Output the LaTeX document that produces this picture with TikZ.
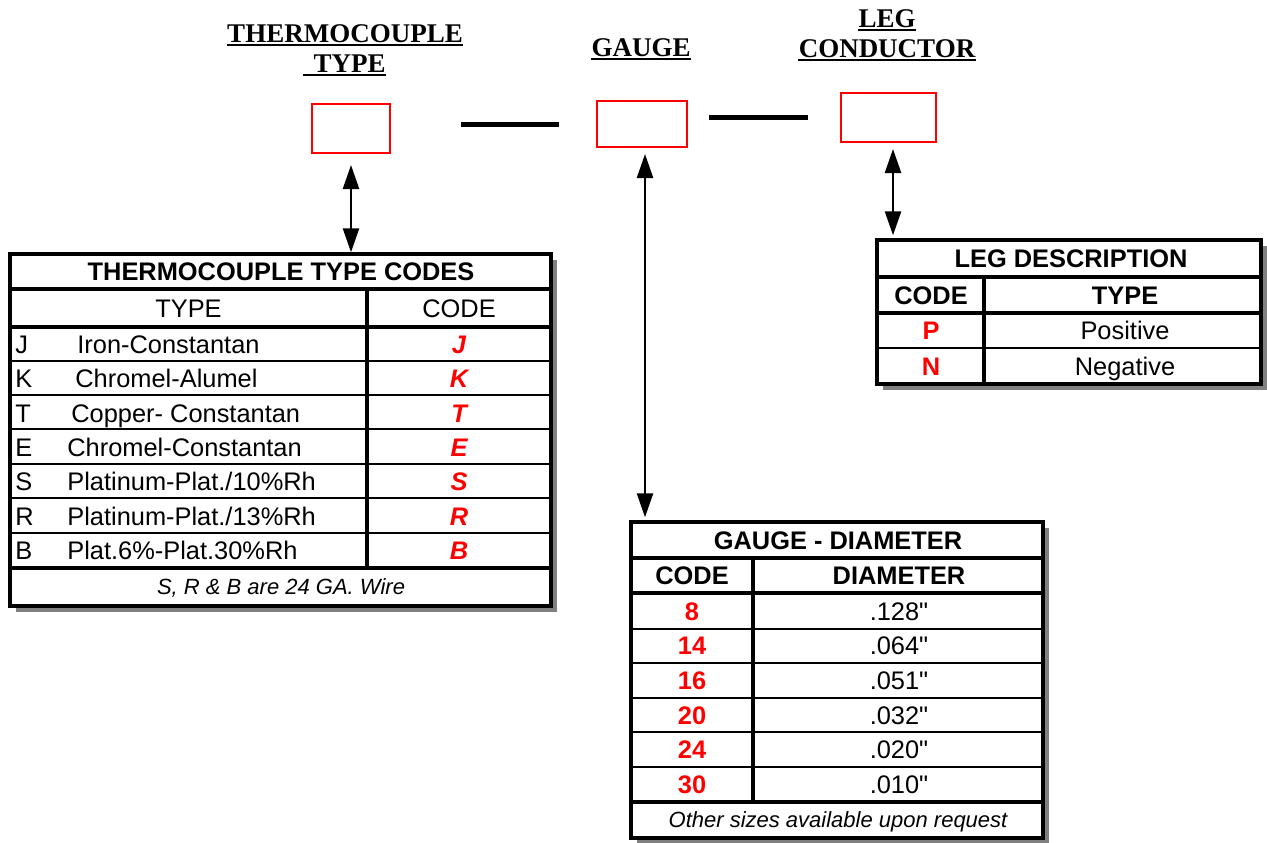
\documentclass[tikz,border=0pt]{standalone}
\usepackage{fontspec}
\setmainfont{Liberation Sans}[Ligatures=TeXOff]
\newfontfamily\titlefont{Liberation Serif}
\usetikzlibrary{arrows.meta,fit,shadows}
\tikzset{redbox/.style={draw=red,line width=1pt,inner sep=0pt}}
\tikzset{frame/.style={draw,fill=white,line width=1.7pt,inner sep=0pt,drop shadow={shadow xshift=3pt,shadow yshift=-3pt,fill=black!50,opacity=1}}}
\tikzset{dblarrow/.style={draw,{Triangle[length=12pt,width=8pt]}-{Triangle[length=12pt,width=8pt]},line width=1.2pt}}
\tikzset{bar/.style={draw,line width=2.5pt}}
\tikzset{uline/.style={draw,line width=1pt}}
\tikzset{sepline/.style={draw,line width=1.6pt}}
\tikzset{rowline/.style={draw,line width=1pt}}
\tikzset{heading/.style={inner sep=0pt,anchor=base,font={\titlefont\bfseries\fontsize{13.5pt}{15pt}\selectfont}}}
\tikzset{cell/.style={inner sep=0pt,text height=9pt,text depth=0pt,font={\fontsize{12.7pt}{15pt}\selectfont}}}
\tikzset{boldcell/.style={cell,font={\fontsize{12.7pt}{15pt}\selectfont\bfseries}}}
\tikzset{codecell/.style={cell,text=red,font={\fontsize{12.7pt}{15pt}\selectfont\bfseries\itshape}}}
\tikzset{numcell/.style={boldcell,text=red}}
\tikzset{note/.style={inner sep=0pt,text height=7.9pt,text depth=0pt,font={\fontsize{11pt}{13pt}\selectfont\itshape}}}

\begin{document}
\begin{tikzpicture}[x=0.5pt,y=-0.5pt]
        \useasboundingbox (0,0) rectangle (1267,842);
        \node[heading] (tctitle1) at (345,42) {THERMOCOUPLE};
        \node[heading] (tctitle2) at (349.5,72) {TYPE};
        \node[heading] (gtitle) at (641,56) {GAUGE};
        \node[heading] (ltitle1) at (887,27) {LEG};
        \node[heading] (ltitle2) at (887,57) {CONDUCTOR};
        \foreach \t in {tctitle1,gtitle,ltitle1,ltitle2}
            \path[uline] ([yshift=-1.6pt]\t.base west) -- ([yshift=-1.6pt]\t.base east);
        \path[uline] ([xshift=-5pt,yshift=-1.6pt]tctitle2.base west) -- ([yshift=-1.6pt]tctitle2.base east);

        \node[redbox,fit={(312,104)(390,153)}] (tcbox) {};
        \node[redbox,fit={(597,101)(687,147)}] (gbox) {};
        \node[redbox,fit={(841,93)(936,142)}] (lbox) {};
        \path[bar,shorten <=35pt,shorten >=18.5pt] (tcbox.east |- gbox.west) -- (gbox.west);
        \path[bar,shorten <=10.5pt,shorten >=16pt] (gbox.east |- lbox.west) -- (lbox.west);

        \node[frame,fit={(10,254)(551,606)}] (tctab) {};
        \node[frame,fit={(631,522)(1043,838)}] (gtab) {};
        \node[frame,fit={(877,240)(1261,384)}] (ltab) {};

        \path[dblarrow,shorten <=5.5pt] (tcbox.south) -- (tcbox.south |- tctab.north);
        \path[dblarrow,shorten <=3pt,shorten >=1.5pt] ([xshift=1.5pt]gbox.south) -- ([xshift=1.5pt]gbox.south |- gtab.north);
        \path[dblarrow,shorten <=3pt,shorten >=1.5pt] ([xshift=2.25pt]lbox.south) -- ([xshift=2.25pt]lbox.south |- ltab.north);

        \path[sepline] (10,289) -- (551,289) (10,327) -- (551,327) (10,568) -- (551,568) (367,289) -- (367,568);
        \foreach \y in {361,395,429,464,498,533}
            \path[rowline] (10,\y) -- (551,\y);
        \node[boldcell] (tchead) at (281,271.5) {THERMOCOUPLE TYPE CODES};
        \node[cell] (tctype) at (188.5,308) {TYPE};
        \node[cell] (tccode) at (459,308) {CODE};
        \foreach \i/\l/\n/\x in {0/J/Iron-Constantan/77, 1/K/Chromel-Alumel/75, 2/T/Copper- Constantan/71, 3/E/Chromel-Constantan/67, 4/S/{Platinum-Plat./10\%Rh}/67, 5/R/{Platinum-Plat./13\%Rh}/67, 6/B/{Plat.6\%-Plat.30\%Rh}/67}{
            \node[cell,anchor=west] (tcl\i) at (15,344.2+34.43*\i) {\l};
            \node[cell,anchor=west] (tcn\i) at (\x,344.2+34.43*\i) {\n};
            \node[codecell] (tcc\i) at (459,344.2+34.43*\i) {\l};
        }
        \node[note] (tcnote) at (281,587) {S, R \& B are 24 GA. Wire};

        \path[sepline] (631,558) -- (1043,558) (631,593) -- (1043,593) (631,802) -- (1043,802) (753,558) -- (753,802);
        \foreach \y in {629,663,698,732,767}
            \path[rowline] (631,\y) -- (1043,\y);
        \node[boldcell] (ghead) at (838,540) {GAUGE - DIAMETER};
        \node[boldcell] (gcode) at (692,575.5) {CODE};
        \node[boldcell] (gdiam) at (899,575.5) {DIAMETER};
        \foreach \i/\g/\d in {0/8/.128", 1/14/.064", 2/16/.051", 3/20/.032", 4/24/.020", 5/30/.010"}{
            \node[numcell] (gg\i) at (692,611+34.7*\i) {\g};
            \node[cell] (gd\i) at (899,611+34.7*\i) {\d};
        }
        \node[note] (gnote) at (838,820) {Other sizes available upon request};

        \path[sepline] (877,277) -- (1261,277) (877,313) -- (1261,313) (984,277) -- (984,384);
        \path[rowline] (877,348) -- (1261,348);
        \node[boldcell] (lhead) at (1071,258.5) {LEG DESCRIPTION};
        \node[boldcell] (lcode) at (931,295) {CODE};
        \node[boldcell] (ltype) at (1125,295) {TYPE};
        \foreach \i/\c/\t in {0/P/Positive, 1/N/Negative}{
            \node[numcell] (lc\i) at (931,330.5+35.5*\i) {\c};
            \node[cell] (lt\i) at (1125,330.5+35.5*\i) {\t};
        }
\end{tikzpicture}
\end{document}
